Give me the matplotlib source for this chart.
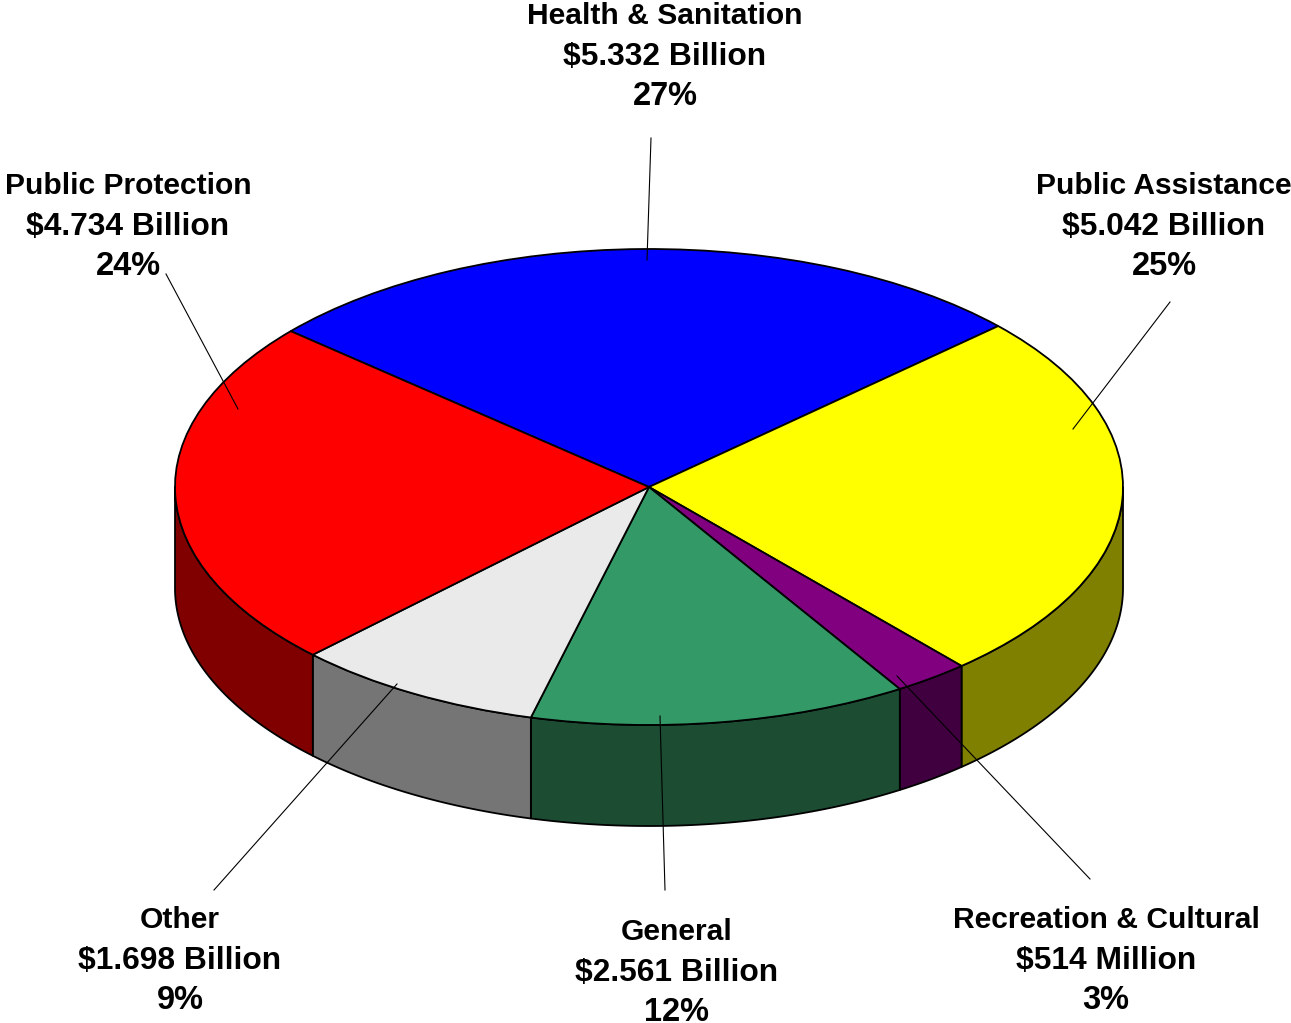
import numpy as np
import matplotlib
matplotlib.use("Agg")
import matplotlib.pyplot as plt

W, H = 1291, 1023

# slices, clockwise from the top left edge
categories = ["Health & Sanitation", "Public Assistance", "Recreation & Cultural",
              "General", "Other", "Public Protection"]
amounts = [5.332, 5.042, 0.514, 2.561, 1.698, 4.734]
amount_labels = ["$5.332 Billion", "$5.042 Billion", "$514 Million",
                 "$2.561 Billion", "$1.698 Billion", "$4.734 Billion"]
percents = ["27%", "25%", "3%", "12%", "9%", "24%"]
top_colors = ["#0000FF", "#FFFF00", "#800080", "#339966", "#EAEAEA", "#FF0000"]
side_colors = ["#000080", "#808000", "#400040", "#1C4D33", "#757575", "#800000"]

# label centres and leader lines, in pixels
label_xy = [(665, 53), (1164, 223), (1106, 957), (677, 969), (180, 957), (128, 223)]
leaders = [((651, 138), (647, 260)), ((1170, 302), (1073, 429)), ((1090, 879), (897, 676)),
           ((665, 890), (660, 716)), ((214, 890), (397, 684)), ((166, 274), (238, 409))]

cx, cy, rx, ry, depth = 649, 487, 474, 238, 101
start = -49.1  # degrees clockwise from top

fig = plt.figure(figsize=(W / 100, H / 100), dpi=100)
ax = fig.add_axes([0, 0, 1, 1])

# rim first, only the front half shows
edges = start + np.cumsum([0] + amounts) / sum(amounts) * 360
dz = depth / ry
for i in range(len(amounts)):
    a0, a1 = max(edges[i], 90), min(edges[i + 1], 270)
    if a1 <= a0:
        continue
    t = np.radians(np.linspace(a0, a1, 120))
    x = np.sin(t)
    y = np.cos(t)
    ax.fill(np.r_[x, x[::-1]], np.r_[y, y[::-1] - dz], fc=side_colors[i], ec="black", lw=1.3,
            joinstyle="round", zorder=1)

ax.pie(amounts, colors=top_colors, startangle=90 - start, counterclock=False, radius=1,
       wedgeprops=dict(edgecolor="black", linewidth=1.3), normalize=True)
ax.set_aspect("auto")
ax.set_xlim(-cx / rx, (W - cx) / rx)
ax.set_ylim((cy - H) / ry, cy / ry)
ax.axis("off")

for (p0, p1) in leaders:
    fig.add_artist(plt.Line2D([p0[0] / W, p1[0] / W], [1 - p0[1] / H, 1 - p1[1] / H],
                              color="black", lw=0.8))

# the original face has narrow letters and wide figures, so sizes differ per line
line_sizes = [21.6, 22.9, 23.5]
for i, name in enumerate(categories):
    lines = [name, amount_labels[i], percents[i]]
    for k, s in enumerate(lines):
        fig.text(label_xy[i][0] / W, 1 - (label_xy[i][1] + (k - 1) * 40) / H, s.replace("$", r"\$"),
                 ha="center", va="center_baseline", fontsize=line_sizes[k], fontweight="bold",
                 family="Liberation Sans")

fig.savefig("out.png", dpi=100)
